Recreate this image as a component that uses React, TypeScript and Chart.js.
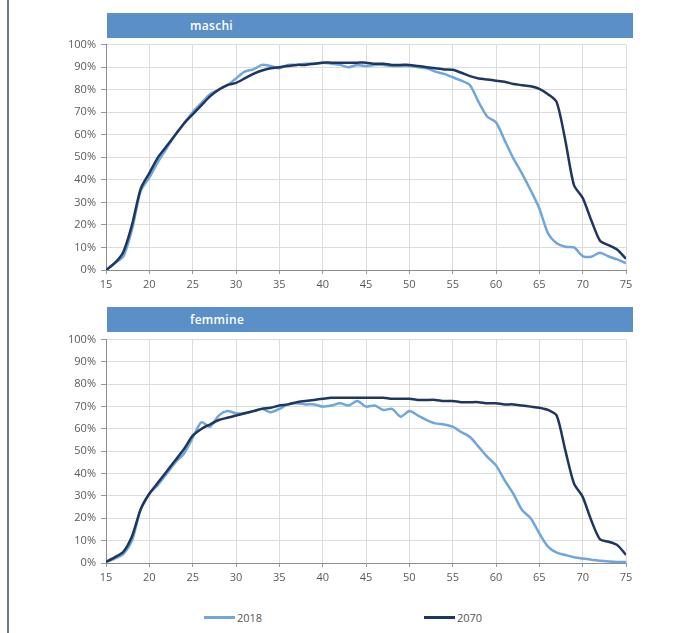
import React, { useEffect, useRef } from "react";
import { Chart, registerables } from "chart.js";

Chart.register(...registerables);

const ages = [15,16,17,18,19,20,21,22,23,24,25,26,27,28,29,30,31,32,33,34,35,36,37,38,39,40,41,42,43,44,45,46,47,48,49,50,51,52,53,54,55,56,57,58,59,60,61,62,63,64,65,66,67,68,69,70,71,72,73,74,75];

const maschi2018 = [0,3,6,18,35,41,48,54,60,65,70,74,78,80,82,85,88,89,91,90.5,89.5,91,91,91.5,91.5,92,91.5,91,90,91,90.5,91,91,90.5,90.5,90.5,90,89.5,88,87,85.5,84,82,74.5,68,65.6,57.5,49.5,42.8,35.4,27.3,16.3,11.9,10.3,10,6.2,5.9,7.7,6,4.7,3];
const maschi2070 = [0,3,8,20,36,43,50,55,60,65,69,73,77,80,82,83,85,87,88.5,89.5,90,90.5,91,91,91.5,92,92,92,92,92,92,91.5,91.5,91,91,91,90.5,90,89.5,89,88.8,87.5,86,85,84.5,84,83.5,82.5,82,81.5,80.4,78,74.5,57.5,37.6,32,22,13,11,9,5];
const femmine2018 = [0.5,2,4,10,24,31,35,40,45,49,56,63,61,66,68,67,67,68,69,67.5,69,71,71.5,71,71,70,70.5,71.5,70.5,72.5,70,70.5,68.5,69,65.5,68,66,64,62.5,62,61,58.6,56.4,52,47.5,43.7,37,31,23.7,20,13.3,7.3,4.6,3.6,2.6,2,1.5,1,0.7,0.5,0.5];
const femmine2070 = [0.5,2.5,5,12,24,31,36,41,46,51,57,60,62,64,65,66,67,68,69,69.5,70.5,71,72,72.5,73,73.5,74,74,74,74,74,74,74,73.5,73.5,73.5,73,73,73,72.5,72.5,72,72,72,71.5,71.5,71,71,70.5,70,69.5,68.5,66,50.4,35.6,29.6,19,10.6,9.5,8,3.6];

const seriesLabels = ["2018", "2070"];
const panelTitles = ["maschi", "femmine"];

const LIGHT = "#6fa6dc";
const DARK = "#1f3660";
const FONT = "'Open Sans', 'DejaVu Sans', sans-serif";

function Panel({ a, b, top, height }: { a: number[]; b: number[]; top: number; height: number }) {
  const ref = useRef<HTMLCanvasElement | null>(null);
  useEffect(() => {
    if (!ref.current) return;
    const chart = new Chart(ref.current, {
      type: "line",
      data: {
        labels: ages,
        datasets: [
          { label: seriesLabels[1], data: ages.map((x, i) => ({ x, y: b[i] })), borderColor: DARK, borderWidth: 2.5, pointRadius: 0, tension: 0.25, fill: false },
          { label: seriesLabels[0], data: ages.map((x, i) => ({ x, y: a[i] })), borderColor: LIGHT, borderWidth: 2.5, pointRadius: 0, tension: 0.25, fill: false },
        ],
      },
      options: {
        animation: false,
        responsive: false,
        maintainAspectRatio: false,
        layout: { padding: { top: 6, right: 24, left: 0, bottom: 0 } },
        plugins: { legend: { display: false }, tooltip: { enabled: false } },
        scales: {
          x: {
            type: "linear",
            min: 15,
            max: 75,
            ticks: { stepSize: 5, color: "#5a5a5a", font: { family: FONT, size: 11 }, padding: 4, maxRotation: 0 },
            grid: { color: "#dcdcdc", tickColor: "#999999", tickLength: 4, lineWidth: 1 },
            border: { color: "#8c8c8c", width: 1 },
            afterFit: (s: any) => { s.height = 30; },
          },
          y: {
            min: 0,
            max: 100,
            ticks: { stepSize: 10, color: "#5a5a5a", font: { family: FONT, size: 11 }, padding: 5, callback: (v: any) => v + "%" },
            grid: { color: "#dcdcdc", tickColor: "#999999", tickLength: 5, lineWidth: 1 },
            border: { color: "#8c8c8c", width: 1 },
            afterFit: (s: any) => { s.width = 66; },
          },
        },
      },
    });
    return () => chart.destroy();
  }, []);
  return (
    <canvas
      ref={ref}
      width={610}
      height={height}
      style={{ position: "absolute", left: 40, top, width: 610, height }}
    />
  );
}

function Header({ text, top }: { text: string; top: number }) {
  return (
    <div
      style={{
        position: "absolute",
        left: 107,
        top,
        width: 526,
        height: 25,
        background: "#5b8fc8",
        color: "#ffffff",
        fontFamily: FONT,
        fontSize: 12,
        fontWeight: 600,
        lineHeight: "25px",
        boxSizing: "border-box",
        paddingLeft: 83,
        letterSpacing: 0.3,
      }}
    >
      {text}
    </div>
  );
}

function LegendItem({ left, color, text }: { left: number; color: string; text: string }) {
  return (
    <div style={{ position: "absolute", left, top: 609, height: 16, display: "flex", alignItems: "center", fontFamily: FONT, fontSize: 11, color: "#555" }}>
      <div style={{ width: 31, height: 3, background: color, marginRight: 2 }} />
      <span>{text}</span>
    </div>
  );
}

export default function App() {
  return (
    <div style={{ position: "absolute", left: 0, top: 0, width: 689, height: 633, background: "#ffffff", overflow: "hidden" }}>
      <div style={{ position: "absolute", left: 7, top: 0, width: 2, height: 633, background: "#6b7583" }} />
      <Panel a={maschi2018} b={maschi2070} top={33} height={267} />
      <Panel a={femmine2018} b={femmine2070} top={328} height={265} />
      <Header text={panelTitles[0]} top={13} />
      <Header text={panelTitles[1]} top={307} />
      <LegendItem left={204} color={LIGHT} text={seriesLabels[0]} />
      <LegendItem left={424} color={DARK} text={seriesLabels[1]} />
    </div>
  );
}
